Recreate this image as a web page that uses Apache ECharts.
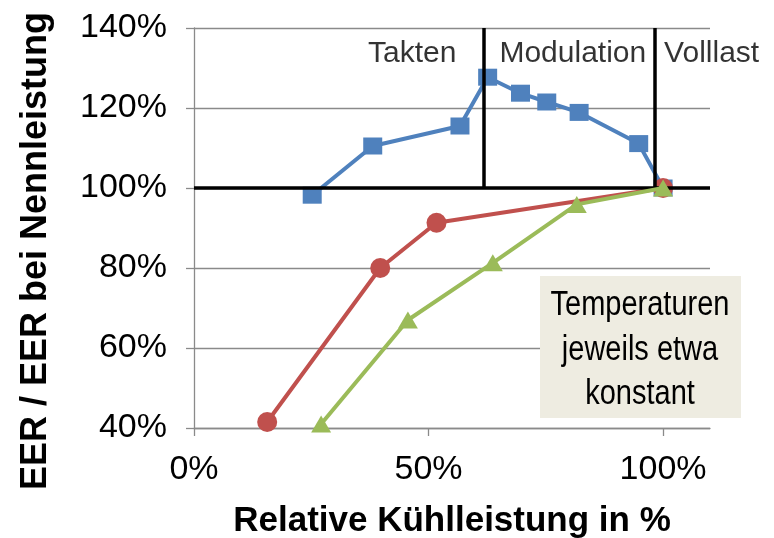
<!DOCTYPE html>
<html>
<head>
<meta charset="utf-8">
<script src="https://cdn.jsdelivr.net/npm/echarts@6/dist/echarts.min.js"></script>
<style>
  html, body { margin: 0; padding: 0; background: #fff; }
  #chart { width: 774px; height: 538px; }
</style>
</head>
<body>
<div id="chart"></div>
<script>
// Part-load behaviour: EER relative to rated EER over relative cooling capacity (both in %)
const blueX  = [25.2, 38.1, 56.7, 62.6, 69.6, 75.2, 82.1, 94.8, 100];
const blueY  = [98.2, 110.5, 115.5, 127.7, 123.7, 121.5, 118.9, 111.1, 100];
const redX   = [15.6, 39.7, 51.7, 100];
const redY   = [41.5, 80, 91.3, 100];
const greenX = [27.1, 45.6, 63.7, 81.6, 100];
const greenY = [41, 67, 81.3, 95.9, 100];

const xTicks = [0, 50, 100];
const yTicks = [40, 60, 80, 100, 120, 140];

// Operating regions: cycling | modulation | full load
const regionBounds = [61.7, 98.3];
const regionNames  = ['Takten', 'Modulation', 'Volllast'];
const ratedLevel   = 100;
const noteLines    = ['Temperaturen', 'jeweils etwa', 'konstant'];

const FONT = '"Liberation Sans", Arial, sans-serif';
const GRID_GRAY = '#8a8a8a';
const xMin = 0, xMax = 110, yMin = 40, yMax = 140;

const pairs = (xs, ys) => xs.map((x, i) => [x, ys[i]]);

const chart = echarts.init(document.getElementById('chart'), null, { renderer: 'canvas' });

const option = {
  animation: false,
  backgroundColor: '#fff',
  grid: { left: 194, right: 64, top: 28, bottom: 110, containLabel: false, outerBoundsMode: 'none' },
  xAxis: {
    type: 'value',
    min: xMin, max: xMax, interval: 50,
    name: 'Relative Kühlleistung in %',
    nameLocation: 'middle',
    nameGap: 76,
    nameTextStyle: { fontFamily: FONT, fontSize: 35, fontWeight: 'bold', color: '#000' },
    axisLine: { show: true, lineStyle: { color: GRID_GRAY, width: 1.3 } },
    axisTick: { show: true, length: 8, lineStyle: { color: GRID_GRAY, width: 1.3 }, customValues: xTicks },
    axisLabel: {
      fontFamily: FONT, fontSize: 34, color: '#000', margin: 25,
      customValues: xTicks,
      formatter: v => v + '%'
    },
    splitLine: { show: false }
  },
  yAxis: {
    type: 'value',
    min: yMin, max: yMax, interval: 20,
    name: 'EER / EER bei Nennleistung',
    nameLocation: 'middle',
    nameRotate: 90,
    nameGap: 140,
    nameTextStyle: { fontFamily: FONT, fontSize: 36, fontWeight: 'bold', color: '#000', padding: [0, 46, 0, 0] },
    axisLine: { show: true, lineStyle: { color: GRID_GRAY, width: 1.3 } },
    axisTick: { show: true, length: 8, lineStyle: { color: GRID_GRAY, width: 1.3 } },
    axisLabel: {
      fontFamily: FONT, fontSize: 34, color: '#000', margin: 27,
      customValues: yTicks,
      formatter: v => v + '%'
    },
    splitLine: { show: true, lineStyle: { color: GRID_GRAY, width: 1.3 } }
  },
  series: [
    {
      // reference lines: rated level and region boundaries
      type: 'line',
      data: [],
      z: 1,
      silent: true,
      markLine: {
        silent: true,
        symbol: 'none',
        animation: false,
        label: { show: false },
        lineStyle: { color: '#000', width: 3.5, type: 'solid' },
        data: [
          [{ coord: [xMin, ratedLevel] }, { coord: [xMax, ratedLevel] }],
          ...regionBounds.map(b => [{ coord: [b, ratedLevel] }, { coord: [b, yMax] }])
        ]
      }
    },
    {
      type: 'line',
      data: pairs(blueX, blueY),
      z: 3,
      symbol: 'rect',
      symbolSize: [19, 17],
      lineStyle: { color: '#4F81BD', width: 4 },
      itemStyle: { color: '#4F81BD' }
    },
    {
      type: 'line',
      data: pairs(redX, redY),
      z: 4,
      symbol: 'circle',
      symbolSize: 20,
      lineStyle: { color: '#C0504D', width: 4 },
      itemStyle: { color: '#C0504D' }
    },
    {
      type: 'line',
      data: pairs(greenX, greenY),
      z: 5,
      symbol: 'triangle',
      symbolSize: [20, 17],
      lineStyle: { color: '#9BBB59', width: 4 },
      itemStyle: { color: '#9BBB59' }
    },
    {
      // region names along the top edge
      type: 'scatter',
      z: 6,
      silent: true,
      symbolSize: 0,
      data: [
        { value: [regionBounds[0], yMax], name: regionNames[0],
          label: { position: 'left', distance: 27 } },
        { value: [regionBounds[0], yMax], name: regionNames[1],
          label: { position: 'right', distance: 16 } },
        { value: [regionBounds[1], yMax], name: regionNames[2],
          label: { position: 'right', distance: 9 } }
      ],
      label: {
        show: true,
        formatter: p => p.name,
        fontFamily: FONT, fontSize: 30, color: '#000',
        offset: [0, 26]
      }
    }
  ],
  graphic: [
    {
      type: 'group',
      left: 540, top: 276,
      z: 100,
      children: [
        { type: 'rect', z: 100, shape: { x: 0, y: 0, width: 201, height: 142 },
          style: { fill: '#EEECE1' } },
        { type: 'text', z: 101, x: 100, y: 74, scaleY: 1.2,
          style: { text: noteLines.join('\n'), fontFamily: FONT, fontSize: 29,
                   lineHeight: 37, fill: '#000', align: 'center', verticalAlign: 'middle' } }
      ]
    }
  ]
};

chart.setOption(option);
</script>
</body>
</html>
